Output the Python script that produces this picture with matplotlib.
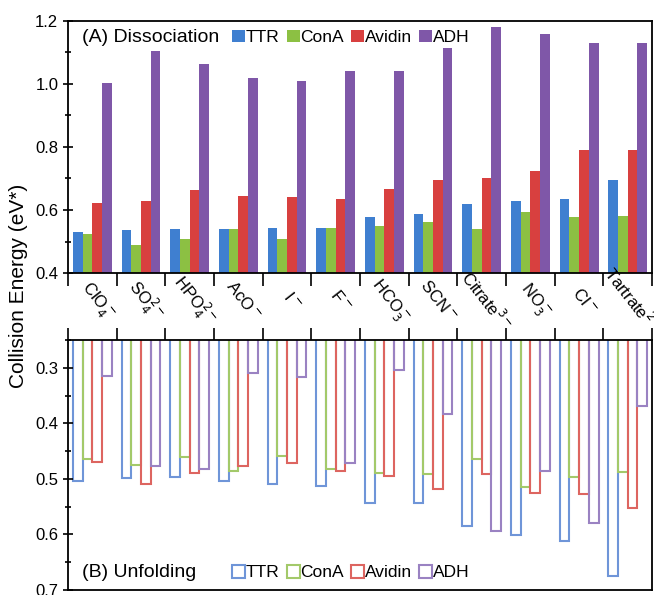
import matplotlib
matplotlib.use("Agg")
import matplotlib.pyplot as plt
import numpy as np
from matplotlib.patches import Patch
from matplotlib.ticker import MultipleLocator

plt.rcParams.update({
    "font.family": ["Liberation Sans", "DejaVu Sans"],
    "font.size": 12,
    "axes.linewidth": 1.3,
})

anions = [r"ClO$_4^-$", r"SO$_4^{2-}$", r"HPO$_4^{2-}$", r"AcO$^-$", r"I$^-$", r"F$^-$",
          r"HCO$_3^-$", r"SCN$^-$", r"Citrate$^{3-}$", r"NO$_3^-$", r"Cl$^-$", r"Tartrate$^{2-}$"]
proteins = ["TTR", "ConA", "Avidin", "ADH"]

# (A) dissociation energies, eV*
diss_ttr = [0.530, 0.536, 0.541, 0.541, 0.544, 0.544, 0.579, 0.587, 0.619, 0.629, 0.634, 0.696]
diss_cona = [0.525, 0.488, 0.509, 0.541, 0.509, 0.544, 0.550, 0.563, 0.539, 0.593, 0.578, 0.582]
diss_avidin = [0.621, 0.629, 0.664, 0.645, 0.640, 0.634, 0.666, 0.696, 0.702, 0.723, 0.790, 0.790]
diss_adh = [1.004, 1.103, 1.062, 1.020, 1.010, 1.041, 1.041, 1.113, 1.181, 1.159, 1.129, 1.129]

# (B) unfolding energies, eV*
unf_ttr = [0.503, 0.499, 0.496, 0.503, 0.509, 0.513, 0.543, 0.543, 0.584, 0.601, 0.612, 0.674]
unf_cona = [0.465, 0.475, 0.461, 0.485, 0.459, 0.483, 0.489, 0.491, 0.464, 0.514, 0.496, 0.487]
unf_avidin = [0.469, 0.509, 0.489, 0.477, 0.472, 0.485, 0.494, 0.518, 0.492, 0.526, 0.528, 0.553]
unf_adh = [0.314, 0.476, 0.482, 0.310, 0.317, 0.471, 0.304, 0.383, 0.593, 0.485, 0.580, 0.368]

fill_colors = ["#3f7fd0", "#8cc043", "#d8403f", "#7f57a8"]
edge_colors = ["#6f95d8", "#a3c96a", "#dd6560", "#9a82c2"]

x = np.arange(len(anions))
offsets = [-0.3, -0.1, 0.1, 0.3]
width = 0.2

fig = plt.figure(figsize=(6.54, 5.95), dpi=100)
ax1 = fig.add_axes([0.104, 0.541, 0.893, 0.424])
ax2 = fig.add_axes([0.104, 0.0084, 0.893, 0.420])

for vals, off, c in zip([diss_ttr, diss_cona, diss_avidin, diss_adh], offsets, fill_colors):
    ax1.bar(x + off, vals, width=width, color=c, linewidth=0)

for vals, off, c in zip([unf_ttr, unf_cona, unf_avidin, unf_adh], offsets, edge_colors):
    ax2.bar(x + off, vals, width=width, facecolor="none", edgecolor=c, linewidth=1.5)

for ax in (ax1, ax2):
    ax.set_xlim(-0.5, len(anions) - 0.5)
    ax.set_xticks(np.arange(len(anions) + 1) - 0.5)
    ax.set_xticklabels([])
    ax.tick_params(axis="y", which="major", direction="inout", length=7, width=1.2, labelsize=12)
    ax.tick_params(axis="y", which="minor", direction="inout", length=5, width=1.2)

ax1.set_ylim(0.4, 1.2)
ax1.yaxis.set_major_locator(MultipleLocator(0.2))
ax1.yaxis.set_minor_locator(MultipleLocator(0.1))
ax1.yaxis.set_major_formatter(lambda v, p: f"{v:.1f}")
ax1.tick_params(axis="x", direction="out", length=9, width=1.2)

ax2.set_ylim(0.7, 0.25)
ax2.yaxis.set_major_locator(MultipleLocator(0.1))
ax2.yaxis.set_minor_locator(MultipleLocator(0.05))
ax2.yaxis.set_major_formatter(lambda v, p: f"{v:.1f}")
ax2.xaxis.tick_top()
ax2.tick_params(axis="x", direction="out", length=9, width=1.2)

# anion names sit in the gap between the two panels
for i, name in enumerate(anions):
    ax1.text(i + 0.1, -0.11, name, transform=ax1.get_xaxis_transform(),
             rotation=-52, ha="center", va="center", fontsize=12, clip_on=False)

fig.text(0.028, 0.52, "Collision Energy (eV*)", rotation=90, ha="center", va="center", fontsize=15)

ax1.text(0.024, 0.935, "(A) Dissociation", transform=ax1.transAxes, fontsize=14, va="center")
ax2.text(0.024, 0.07, "(B) Unfolding", transform=ax2.transAxes, fontsize=14, va="center")

leg_kw = dict(ncol=4, frameon=False, handlelength=0.75, handleheight=0.75,
              handletextpad=0.05, columnspacing=0.4, fontsize=12.5, borderaxespad=0, borderpad=0)
ax1.legend(handles=[Patch(facecolor=c, edgecolor="none", label=p) for c, p in zip(fill_colors, proteins)],
           loc="center left", bbox_to_anchor=(0.281, 0.935), **leg_kw)
ax2.legend(handles=[Patch(facecolor="white", edgecolor=c, linewidth=1.5, label=p)
                    for c, p in zip(edge_colors, proteins)],
           loc="center left", bbox_to_anchor=(0.281, 0.07), **leg_kw)

fig.savefig("out.png", dpi=100)
